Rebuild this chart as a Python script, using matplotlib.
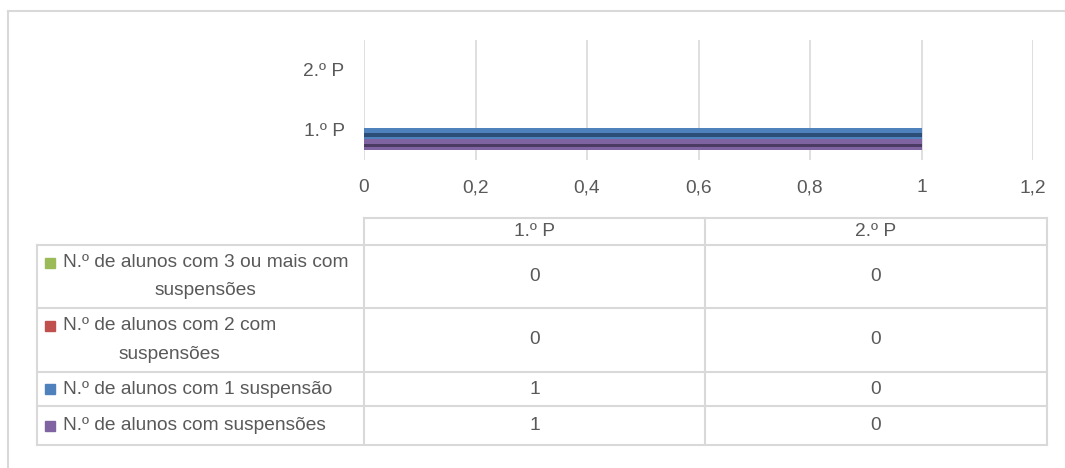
import matplotlib
matplotlib.use("Agg")
import matplotlib.pyplot as plt
from matplotlib.patches import Rectangle

# data
periods = ["1.º P", "2.º P"]
series_names = ["N.º de alunos com 3 ou mais com\nsuspensões",
                "N.º de alunos com 2 com\nsuspensões",
                "N.º de alunos com 1 suspensão",
                "N.º de alunos com suspensões"]
series_values = [[0, 0], [0, 0], [1, 0], [1, 0]]
series_colors = ["#9bbb59", "#c0504d", "#4f81bd", "#8064a2"]
series_dark = ["#5f7530", "#7f2c2a", "#2c4d75", "#4b3a63"]
x_ticks = [0, 0.2, 0.4, 0.6, 0.8, 1.0, 1.2]

W, H = 1065, 468
txt = "#595959"
grid = "#d9d9d9"
fs = 13.8
plt.rcParams['font.family'] = ['Liberation Sans', 'DejaVu Sans']

fig = plt.figure(figsize=(W / 100, H / 100), dpi=100)

# full-figure overlay in pixel coords for border and data table
ov = fig.add_axes([0, 0, 1, 1])
ov.set_xlim(0, W)
ov.set_ylim(H, 0)
ov.axis("off")
ov.plot([8, 1064], [11, 11], color=grid, lw=1.5)
ov.plot([8, 8], [11, H], color=grid, lw=1.5)

# bar chart
ax = fig.add_axes([364 / W, 1 - 160 / H, (1033 - 364) / W, 120 / H])
h = 0.18
offsets = [0.3, 0.12, -0.06, -0.24]
for vals, col, dark, off in zip(series_values, series_colors, series_dark, offsets):
    ypos = [i + off for i in range(len(periods))]
    ax.barh(ypos, vals, height=h, color=col, zorder=3)
    ax.barh([y - h * 0.12 for y in ypos], vals, height=h * 0.3, color=dark, zorder=3)
ax.set_xlim(0, 1.2)
ax.set_ylim(-0.5, 1.5)
ax.set_xticks(x_ticks)
ax.set_xticklabels([f"{t:g}".replace(".", ",") for t in x_ticks])
ax.set_yticks(range(len(periods)))
ax.set_yticklabels(periods)
ax.tick_params(length=0, labelsize=fs, colors=txt, pad=14)
ax.tick_params(axis="x", pad=14)
ax.grid(axis="x", color=grid, lw=1.2, zorder=0)
for s in ax.spines.values():
    s.set_visible(False)

# data table
col_x = [364, 705, 1047]
left = 37
row_y = [245, 308, 372, 406, 445]
tl = dict(color=grid, lw=1.5)
ov.plot([364, 1047], [218, 218], **tl)
for y in row_y:
    ov.plot([left, 1047], [y, y], **tl)
for x in col_x:
    ov.plot([x, x], [218, 445], **tl)
ov.plot([left, left], [245, 445], **tl)

for j, p in enumerate(periods):
    ov.text((col_x[j] + col_x[j + 1]) / 2, 231.5, p, ha="center", va="center",
            fontsize=fs, color=txt)

for i, (name, vals, col) in enumerate(zip(series_names, series_values, series_colors)):
    yc = (row_y[i] + row_y[i + 1]) / 2
    lines = name.count("\n") + 1
    y_first = yc - (lines - 1) * 14
    ov.add_patch(Rectangle((45, y_first - 5), 10, 10, color=col))
    ov.text(63, yc, name, ha="left", va="center", multialignment="center",
            fontsize=fs, color=txt, linespacing=1.85)
    for j, v in enumerate(vals):
        ov.text((col_x[j] + col_x[j + 1]) / 2, yc, str(v), ha="center", va="center",
                fontsize=fs, color=txt)

fig.savefig("out.png", dpi=100)
